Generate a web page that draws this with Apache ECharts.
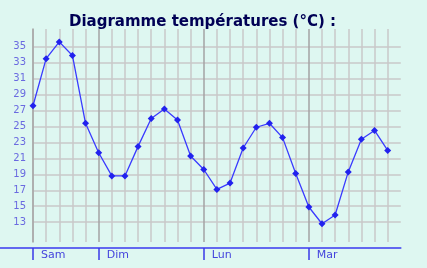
<!DOCTYPE html>
<html><head><meta charset="utf-8">
<script src="https://cdn.jsdelivr.net/npm/echarts@6/dist/echarts.min.js"></script>
<style>html,body{margin:0;padding:0;background:#def7f1;}#c{width:427px;height:268px;}</style>
</head><body><div id="c"></div>
<script>
// 3-hourly temperatures (°C)
const temps = [27.6, 33.5, 35.6, 33.9, 25.4, 21.7, 18.8, 18.8,
  22.5, 26.0, 27.2, 25.8, 21.3, 19.6, 17.1, 17.9,
  22.3, 24.9, 25.4, 23.6, 19.1, 14.9, 12.8, 13.9,
  19.3, 23.4, 24.5, 22.0];
const dayNames = ['Sam', 'Dim', 'Lun', 'Mar'];
const dayStarts = [0, 5, 13, 21];
const yTicksMin = 11, yTicksMax = 37, yStep = 2;

const chart = echarts.init(document.getElementById('c'), null, {renderer: 'canvas'});
const font = 'DejaVu Sans, Verdana, sans-serif';
const light = '#c9c9c9', dark = '#a3a3a3';
const splitColors = [light, light, light, light, light, dark, light, light];
const L = 33, R = 26.2;

chart.setOption({
  backgroundColor: '#def7f1',
  animation: false,
  title: {
    text: 'Diagramme températures (°C) :',
    left: 64, top: 10,
    textStyle: {fontFamily: font, fontWeight: 'bold', fontSize: 15, color: '#000055'}
  },
  grid: [
    {left: L, right: R, top: 29, bottom: 26},
    {left: L, right: R, top: 30.75, bottom: 29.9},
    {left: 0, right: R, top: 200, bottom: 20}
  ],
  xAxis: [
    {gridIndex: 0, type: 'value', min: 0, max: temps.length, interval: 1,
     axisLine: {show: false}, axisTick: {show: false}, axisLabel: {show: false},
     splitLine: {show: true, showMinLine: true, showMaxLine: false,
       lineStyle: {color: splitColors, width: 1.5}}},
    {gridIndex: 1, type: 'value', min: 0, max: temps.length, show: false},
    {gridIndex: 0, type: 'value', min: 0, max: temps.length, position: 'bottom', offset: 6,
     axisLine: {show: false}, splitLine: {show: false},
     axisTick: {show: true, customValues: dayStarts, length: 12, lineStyle: {color: '#3a3ae8', width: 1.5}},
     axisLabel: {show: true, customValues: dayStarts, margin: 2, align: 'left', padding: [0, 0, 0, 8],
       formatter: v => dayNames[dayStarts.indexOf(v)] || '',
       fontFamily: font, fontSize: 11, color: '#4444dd'}},
    {gridIndex: 2, type: 'value', min: 0, max: 1, position: 'bottom',
     axisLine: {show: true, lineStyle: {color: '#3a3af0', width: 1.5}},
     axisTick: {show: false}, axisLabel: {show: false}, splitLine: {show: false}}
  ],
  yAxis: [
    {gridIndex: 0, type: 'value', min: 10.51, max: 37.22,
     axisLine: {show: true, lineStyle: {color: dark, width: 1.5}},
     axisTick: {show: false}, axisLabel: {show: false}, splitLine: {show: false}},
    {gridIndex: 1, type: 'value', min: yTicksMin, max: yTicksMax, interval: yStep,
     axisLine: {show: false}, axisTick: {show: false},
     axisLabel: {show: true, showMinLabel: false, showMaxLabel: false, margin: 7,
       fontFamily: font, fontSize: 10, color: '#6a6ae0'},
     splitLine: {show: true, showMinLine: false, showMaxLine: false,
       lineStyle: {color: light, width: 1.5}}},
    {gridIndex: 2, type: 'value', show: false}
  ],
  series: [{
    type: 'line', xAxisIndex: 1, yAxisIndex: 1,
    data: temps.map((t, i) => [i, t]),
    symbol: 'diamond', symbolSize: 7,
    lineStyle: {color: '#3a3aff', width: 1.3},
    itemStyle: {color: '#2222ee'}
  }]
});
</script></body></html>
